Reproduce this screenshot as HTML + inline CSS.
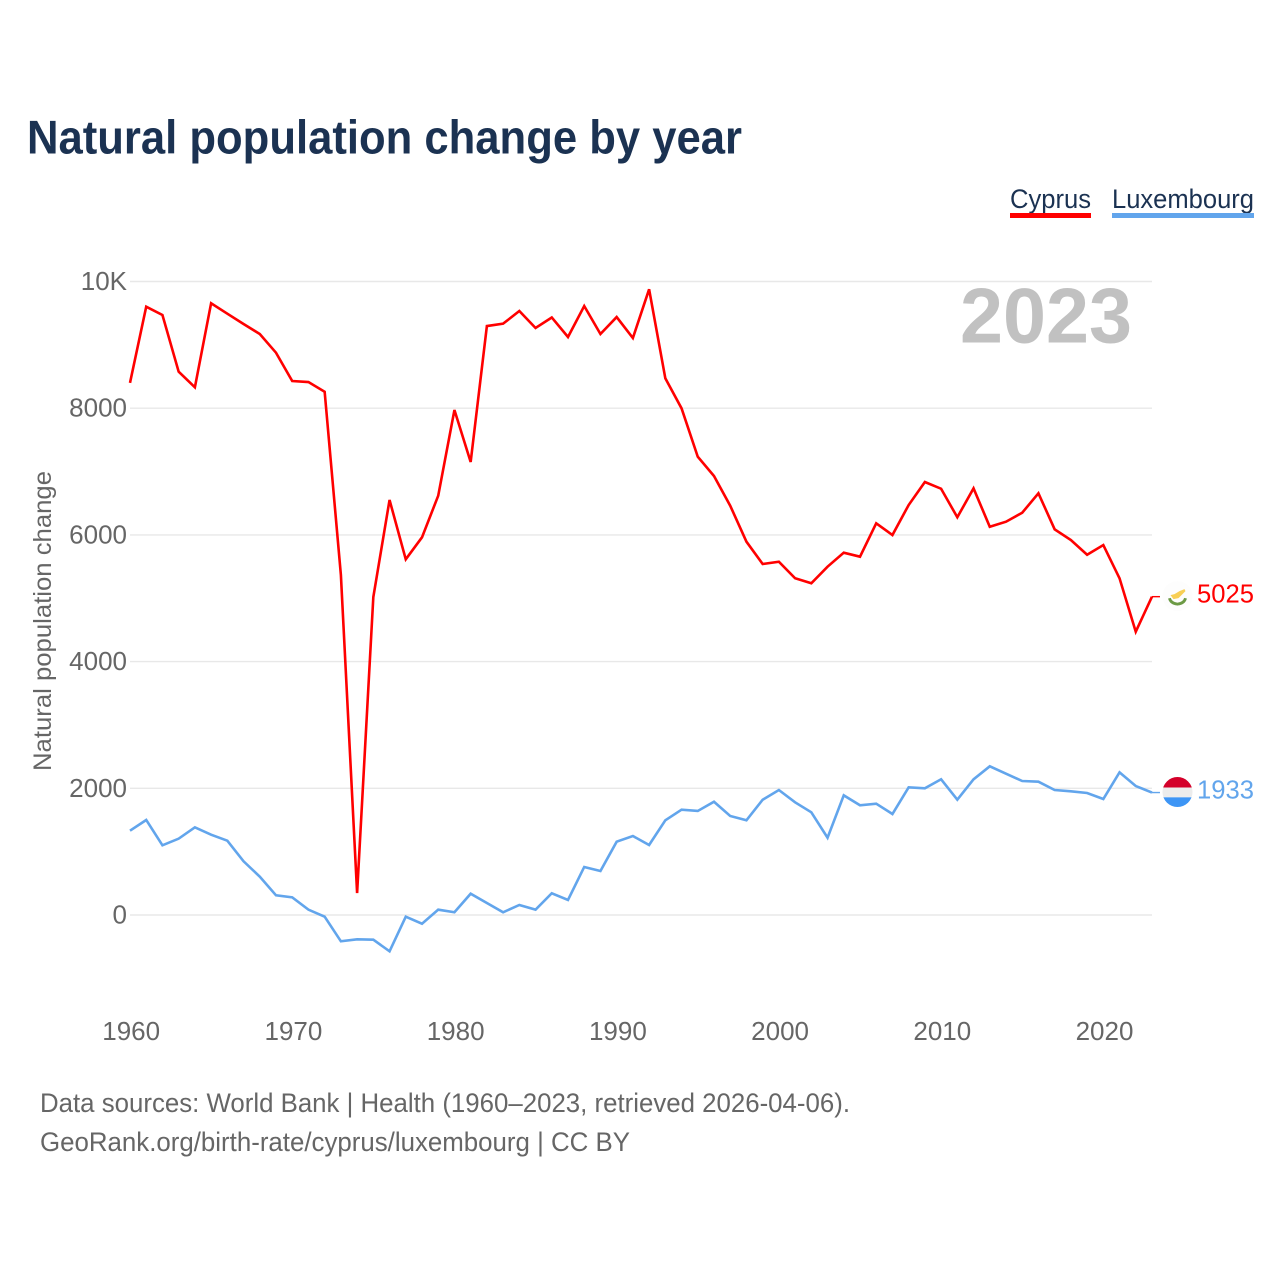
<!DOCTYPE html>
<html lang="en">
<head>
<meta charset="utf-8">
<title>Natural population change by year</title>
<style>
html,body{margin:0;padding:0;background:#fff;width:1280px;height:1280px;overflow:hidden}
svg{display:block;font-family:"Liberation Sans",sans-serif}
</style>
</head>
<body>
<svg id="chart" xmlns="http://www.w3.org/2000/svg" width="1280" height="1280" viewBox="0 0 1280 1280">
  <rect width="1280" height="1280" fill="#fff"/>
  <text x="27" y="153.5" font-size="47" font-weight="700" fill="#1b3252" textLength="715" lengthAdjust="spacingAndGlyphs">Natural population change by year</text>

  <g>
    <g>
      <text x="1010" y="208" font-size="27" fill="#1b3252" textLength="81" lengthAdjust="spacingAndGlyphs">Cyprus</text>
      <rect x="1010" y="213" width="81" height="5" fill="#ff0000"/>
    </g>
    <g>
      <text x="1112" y="208" font-size="27" fill="#1b3252" textLength="142" lengthAdjust="spacingAndGlyphs">Luxembourg</text>
      <rect x="1112" y="213" width="142" height="5" fill="#62a5ec"/>
    </g>
  </g>

  <g id="grid"></g>
  <g id="yticks"></g>
  <g id="xticks"></g>
  <text transform="translate(51,621) rotate(-90)" text-anchor="middle" font-size="25" fill="#666" textLength="300" lengthAdjust="spacingAndGlyphs">Natural population change</text>

  <text id="yearLabel" x="1132" y="342.5" text-anchor="end" font-size="78" font-weight="700" fill="#c1c1c1" textLength="172" lengthAdjust="spacingAndGlyphs"></text>

  <g id="series"></g>
  <g id="ends"></g>

  <defs>
    <clipPath id="luxClip"><circle cx="0" cy="0" r="15"/></clipPath>
  </defs>

  <text x="40" y="1112" font-size="27" fill="#666" textLength="810" lengthAdjust="spacingAndGlyphs">Data sources: World Bank | Health (1960–2023, retrieved 2026-04-06).</text>
  <text x="40" y="1151" font-size="27" fill="#666" textLength="590" lengthAdjust="spacingAndGlyphs">GeoRank.org/birth-rate/cyprus/luxembourg | CC BY</text>
</svg>
<script>
const startYear = 1960;
const yTickValues = [0, 2000, 4000, 6000, 8000, 10000];
const yTickLabels = ["0", "2000", "4000", "6000", "8000", "10K"];
const xTickValues = [1960, 1970, 1980, 1990, 2000, 2010, 2020];
const xTickLabels = ["1960", "1970", "1980", "1990", "2000", "2010", "2020"];
const cyprusValues = [
  8400, 9602, 9471, 8576, 8330, 9656, 9492, 9329, 9171, 8876,
  8429, 8413, 8260, 5367, 347, 5020, 6551, 5615, 5962, 6619,
  7971, 7151, 9297, 9334, 9534, 9266, 9432, 9124, 9613, 9171,
  9439, 9108, 9877, 8472, 7998, 7234, 6930, 6461, 5893, 5541,
  5577, 5315, 5236, 5498, 5719, 5656, 6183, 5998, 6472, 6835,
  6729, 6278, 6735, 6129, 6208, 6350, 6657, 6088, 5919, 5687,
  5840, 5315, 4472, 5025
];
const luxembourgValues = [
  1331, 1500, 1100, 1205, 1384, 1268, 1173, 848, 605, 311,
  279, 84, -27, -415, -384, -390, -573, -27, -137, 84,
  43, 336, 189, 43, 158, 84, 343, 237, 758, 695,
  1157, 1247, 1105, 1495, 1662, 1642, 1788, 1563, 1495, 1820,
  1973, 1779, 1621, 1220, 1889, 1732, 1757, 1594, 2016, 2000,
  2142, 1820, 2142, 2347, 2230, 2115, 2104, 1973, 1952, 1926,
  1831, 2252, 2036, 1933
];

const NS = "http://www.w3.org/2000/svg";
function xScale(year) { return 130 + (year - 1960) * 16.222; }
function yScale(value) { return 915 - value * 0.06335; }
function make(tag, attrs, parent, text) {
  const el = document.createElementNS(NS, tag);
  for (const k in attrs) el.setAttribute(k, attrs[k]);
  if (text !== undefined) el.textContent = text;
  parent.appendChild(el);
  return el;
}

const gridGroup = document.getElementById("grid");
const yTickGroup = document.getElementById("yticks");
const xTickGroup = document.getElementById("xticks");
const seriesGroup = document.getElementById("series");
const endGroup = document.getElementById("ends");

yTickValues.forEach(function (v, i) {
  const line = make("line", { x1: 130, x2: 1152, y1: yScale(v), y2: yScale(v), stroke: "#e8e8e8", "stroke-width": 1.4 }, gridGroup);
  
  
  const label = make("text", { x: 127, y: yScale(v) + 8.5, "text-anchor": "end", "font-size": 26, fill: "#666" }, yTickGroup, yTickLabels[i]);
  
  
});

xTickValues.forEach(function (v, i) {
  const label = make("text", { x: xScale(v) + 1.2, y: 1040, "text-anchor": "middle", "font-size": 26, fill: "#666" }, xTickGroup, xTickLabels[i]);
  
  
});

function pathFor(values) {
  return values.map(function (v, i) {
    return (i ? "L" : "M") + xScale(startYear + i).toFixed(2) + " " + yScale(v).toFixed(2);
  }).join(" ");
}

const luxLine = make("path", { d: pathFor(luxembourgValues), fill: "none", stroke: "#62a5ec", "stroke-width": 2.6, "stroke-linejoin": "miter" }, seriesGroup);


const cyLine = make("path", { d: pathFor(cyprusValues), fill: "none", stroke: "#ff0000", "stroke-width": 2.6, "stroke-linejoin": "miter" }, seriesGroup);



const lastYear = startYear + cyprusValues.length - 1;
document.getElementById("yearLabel").textContent = String(lastYear);

const cyLast = cyprusValues[cyprusValues.length - 1];
const luxLast = luxembourgValues[luxembourgValues.length - 1];
const lastX = xScale(lastYear);

const cyConn = make("line", { x1: lastX, x2: lastX + 8, y1: yScale(cyLast), y2: yScale(cyLast), stroke: "#ff0000", "stroke-width": 1.4 }, endGroup);


const luxConn = make("line", { x1: lastX, x2: lastX + 8, y1: yScale(luxLast), y2: yScale(luxLast), stroke: "#62a5ec", "stroke-width": 1.4 }, endGroup);



const cyFlag = make("g", { transform: "translate(" + (lastX + 25.5) + "," + (yScale(cyLast) - 0.5) + ")" }, endGroup);


make("circle", { r: 15, fill: "#fdfdfd" }, cyFlag);
make("path", { d: "M-7 -1 L-3 -2 L2 -5 L7 -7 L8 -5 L4 -1 L1 2 L-4 3 Z", fill: "#f8cf55" }, cyFlag);
make("path", { d: "M-8 2 Q-7 7 0 8 Q7 7 8 2", fill: "none", stroke: "#6c9a45", "stroke-width": 2.8 }, cyFlag);

const luxFlag = make("g", { transform: "translate(" + (lastX + 25.5) + "," + (yScale(luxLast) - 0.5) + ")", "clip-path": "url(#luxClip)" }, endGroup);


make("rect", { x: -16, y: -16, width: 32, height: 11.5, fill: "#d4002a" }, luxFlag);
make("rect", { x: -16, y: -4.5, width: 32, height: 9.8, fill: "#ececec" }, luxFlag);
make("rect", { x: -16, y: 5.3, width: 32, height: 11, fill: "#3d95f5" }, luxFlag);

const cyLabel = make("text", { x: 1197, y: yScale(cyLast) + 6, "font-size": 25.6, fill: "#ff0000" }, endGroup, String(cyLast));


const luxLabel = make("text", { x: 1197, y: yScale(luxLast) + 6.2, "font-size": 25.6, fill: "#62a5ec" }, endGroup, String(luxLast));


</script>
</body>
</html>
